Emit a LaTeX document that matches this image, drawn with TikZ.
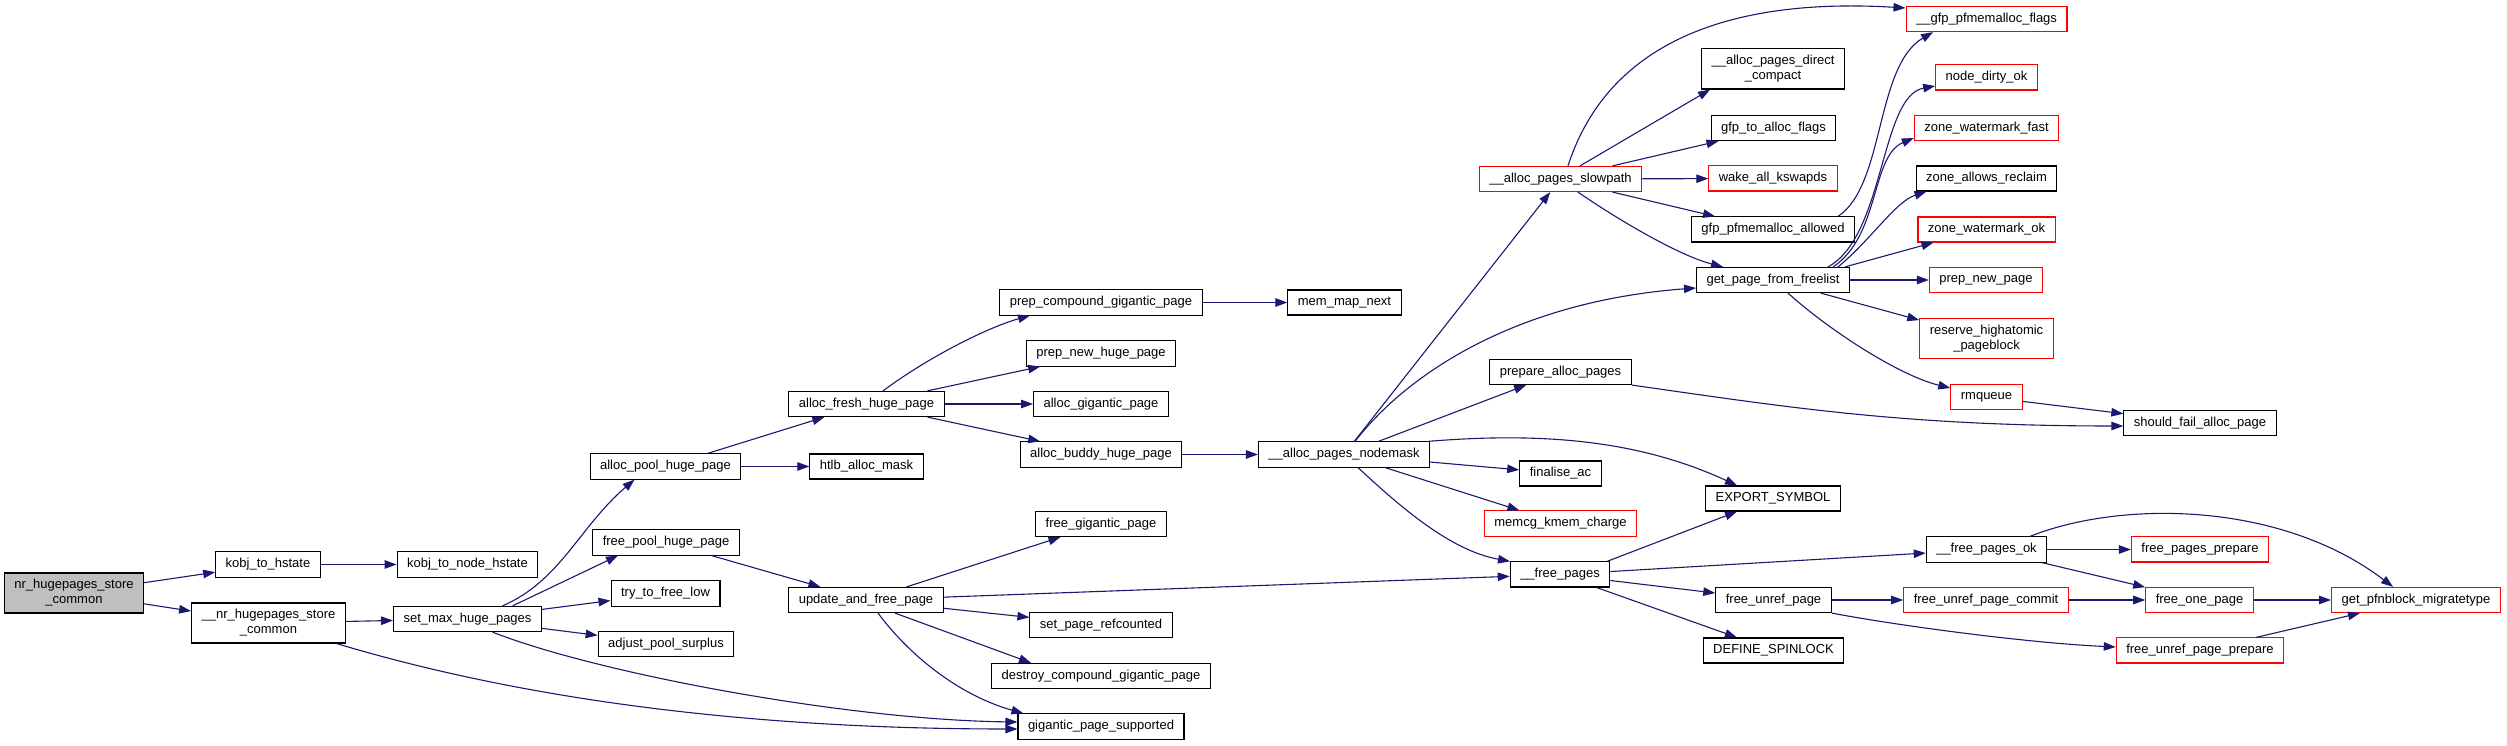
\documentclass[tikz,border=0pt]{standalone}
\usepackage{fontspec}
\setmainfont{Liberation Sans}
\usepackage{tikz}
\usetikzlibrary{arrows.meta}
\definecolor{edgeblue}{HTML}{191970}
\definecolor{rootgray}{HTML}{BFBFBF}

\begin{document}
\begin{tikzpicture}[
  x=1pt, y=1pt,
  fn/.style={draw=black, line width=1.1pt, fill=white, inner xsep=10pt, inner ysep=6.5pt, minimum height=25pt, align=center, font=\fontsize{13}{15}\selectfont},
  fnred/.style={fn, draw=red},
  fnroot/.style={fn, fill=rootgray},
  call/.style={-{Triangle[length=12pt,width=8.5pt]}, color=edgeblue, line width=1.1pt}
]
\useasboundingbox (0,0) rectangle (2507,746);

% Left side: sysfs entry and hugepage pool
\node[fnroot] (nhsc) at (74,153) {nr\_hugepages\_store\\\_common};
\node[fn] (kth) at (268,181.5) {kobj\_to\_hstate};
\node[fn] (ktnh) at (467.5,181.5) {kobj\_to\_node\_hstate};
\node[fn] (unhsc) at (268.5,123) {\_\_nr\_hugepages\_store\\\_common};
\node[fn] (smhp) at (467.5,127) {set\_max\_huge\_pages};
\node[fn] (aphp) at (665.5,279.5) {alloc\_pool\_huge\_page};
\node[fn] (ham) at (866.5,279.5) {htlb\_alloc\_mask};
\node[fn] (fphp) at (666,203.5) {free\_pool\_huge\_page};
\node[fn] (ttfl) at (665.5,152.5) {try\_to\_free\_low};
\node[fn] (aps) at (666,102) {adjust\_pool\_surplus};
\node[fn] (afhp) at (866.5,342) {alloc\_fresh\_huge\_page};
\node[fn] (uafp) at (866,146) {update\_and\_free\_page};
\node[fn] (pcgp) at (1101,443.5) {prep\_compound\_gigantic\_page};
\node[fn] (pnhp) at (1101,392.5) {prep\_new\_huge\_page};
\node[fn] (agp) at (1101,342) {alloc\_gigantic\_page};
\node[fn] (abhp) at (1101,291.5) {alloc\_buddy\_huge\_page};
\node[fn] (fgp) at (1101,222) {free\_gigantic\_page};
\node[fn] (sprc) at (1101,121) {set\_page\_refcounted};
\node[fn] (dcgp) at (1101,70) {destroy\_compound\_gigantic\_page};
\node[fn] (gps) at (1101,19.5) {gigantic\_page\_supported};
\node[fn] (mmn) at (1344.5,443.5) {mem\_map\_next};
\node[fn] (apn) at (1344,291.5) {\_\_alloc\_pages\_nodemask};

% Middle: page allocator
\node[fnred] (aslow) at (1560.5,567) {\_\_alloc\_pages\_slowpath};
\node[fn] (pap) at (1560.5,374) {prepare\_alloc\_pages};
\node[fn] (fac) at (1560.5,272.5) {finalise\_ac};
\node[fnred] (mkc) at (1560.5,222.5) {memcg\_kmem\_charge};
\node[fn] (ufp) at (1560,171.5) {\_\_free\_pages};
\node[fn] (apdc) at (1773,677) {\_\_alloc\_pages\_direct\\\_compact};
\node[fn] (gtaf) at (1773.5,618) {gfp\_to\_alloc\_flags};
\node[fnred] (wak) at (1773,567.5) {wake\_all\_kswapds};
\node[fn] (gpa) at (1773,516.5) {gfp\_pfmemalloc\_allowed};
\node[fn] (gpff) at (1773,466) {get\_page\_from\_freelist};
\node[fn] (es) at (1773,247.5) {EXPORT\_SYMBOL};
\node[fn] (fup) at (1773.5,146) {free\_unref\_page};
\node[fn] (ds) at (1773.5,95.5) {DEFINE\_SPINLOCK};

% Right side
\node[fnred] (ugpf) at (1986.5,727) {\_\_gfp\_pfmemalloc\_flags};
\node[fnred] (ndo) at (1986.5,668.5) {node\_dirty\_ok};
\node[fnred] (zwf) at (1986.5,618) {zone\_watermark\_fast};
\node[fn] (zar) at (1986.5,567.5) {zone\_allows\_reclaim};
\node[fnred] (zwo) at (1986.5,516.5) {zone\_watermark\_ok};
\node[fnred] (pnp) at (1986,466) {prep\_new\_page};
\node[fnred] (rhp) at (1986.5,407.5) {reserve\_highatomic\\\_pageblock};
\node[fnred] (rmq) at (1986.5,349) {rmqueue};
\node[fn] (ufpo) at (1986.5,196.5) {\_\_free\_pages\_ok};
\node[fnred] (fupc) at (1986,146) {free\_unref\_page\_commit};
\node[fn] (sfap) at (2200,323) {should\_fail\_alloc\_page};
\node[fnred] (fpp) at (2200,196.5) {free\_pages\_prepare};
\node[fnred] (fop) at (2199.5,146) {free\_one\_page};
\node[fnred] (fupp) at (2200,95.5) {free\_unref\_page\_prepare};
\node[fnred] (gpm) at (2416,146) {get\_pfnblock\_migratetype};

% Calls: left side
\draw[call] (nhsc) -- (kth);
\draw[call] (nhsc) -- (unhsc);
\draw[call] (kth) -- (ktnh);
\draw[call] (unhsc) -- (smhp);
\draw[call] ([xshift=68pt]unhsc.south) .. controls +(200,-60) and +(-250,0) .. ([yshift=-2.5pt]gps.west);
\draw[call] ([xshift=35pt]smhp.north) .. controls +(58,25) and +(-55,-47) .. ([xshift=-31pt]aphp.south);
\draw[call] ([xshift=45pt]smhp.north) -- ([xshift=-48pt]fphp.south);
\draw[call] (smhp) -- (ttfl);
\draw[call] (smhp) -- (aps);
\draw[call] ([xshift=25pt]smhp.south) .. controls +(107,-42) and +(-168,2) .. ([yshift=4.5pt]gps.west);
\draw[call] (aphp) -- (afhp);
\draw[call] (aphp) -- (ham);
\draw[call] ([xshift=16.5pt]afhp.north) .. controls +(47,35) and +(-40,-11) .. ([xshift=-71pt]pcgp.south);
\draw[call] (afhp) -- (pnhp);
\draw[call] (afhp) -- (agp);
\draw[call] (afhp) -- (abhp);
\draw[call] (pcgp) -- (mmn);
\draw[call] (abhp) -- (apn);
\draw[call] (fphp) -- (uafp);
\draw[call] (uafp) -- (fgp);
\draw[call] (uafp) -- (ufp);
\draw[call] (uafp) -- (sprc);
\draw[call] ([xshift=29pt]uafp.south) -- ([xshift=-70pt]dcgp.north);
\draw[call] ([xshift=12pt]uafp.south) .. controls +(32,-43) and +(-64,18) .. ([xshift=6pt]gps.north west);

% Calls: page allocator
\draw[call] (apn) -- (aslow);
\draw[call] ([xshift=11pt]apn.north) .. controls +(55,71) and +(-175,-13) .. ([yshift=-8pt]gpff.west);
\draw[call] (apn) -- (pap);
\draw[call] ([xshift=-2pt]apn.north east) .. controls +(132,11) and +(-87,40) .. ([xshift=-36pt]es.north);
\draw[call] (apn) -- (fac);
\draw[call] (apn) -- (mkc);
\draw[call] ([xshift=14pt]apn.south) .. controls +(42,-39) and +(-60,11) .. ([xshift=-50pt]ufp.north);
\draw[call] ([xshift=7.5pt]aslow.north) .. controls +(42,130) and +(-165,10) .. ([yshift=11pt]ugpf.west);
\draw[call] ([xshift=19.5pt]aslow.north) -- ([xshift=-63pt]apdc.south);
\draw[call] ([xshift=52pt]aslow.north) -- ([xshift=-55pt]gtaf.south);
\draw[call] (aslow) -- (wak);
\draw[call] ([xshift=52pt]aslow.south) -- ([xshift=-58pt]gpa.north);
\draw[call] ([xshift=17.5pt]aslow.south) .. controls +(42,-29) and +(-43,11) .. ([xshift=-50pt]gpff.north);
\draw[call] ([xshift=65pt]gpa.north) .. controls +(47,31) and +(-58,-34) .. ([xshift=-53.5pt]ugpf.south);
\draw[call] ([xshift=55pt]gpff.north) .. controls +(57,31) and +(-55,-10) .. ([yshift=-8.5pt]ndo.west);
\draw[call] ([xshift=60pt]gpff.north) .. controls +(47,31) and +(-43,-18) .. ([yshift=-10pt]zwf.west);
\draw[call] ([xshift=65pt]gpff.north) .. controls +(32,26) and +(-31,-10) .. ([xshift=-60pt]zar.south);
\draw[call] ([xshift=72pt]gpff.north) -- ([xshift=-53pt]zwo.south);
\draw[call] (gpff) -- (pnp);
\draw[call] (gpff) -- (rhp);
\draw[call] ([xshift=15pt]gpff.south) .. controls +(42,-38) and +(-50,12) .. ([yshift=9pt]rmq.west);
\draw[call] (pap.south east) .. controls +(149,-21) and +(-223,0) .. ([yshift=-3pt]sfap.west);
\draw[call] (rmq) -- (sfap);

% Calls: freeing pages
\draw[call] ([xshift=47pt]ufp.north) -- ([xshift=-36pt]es.south);
\draw[call] (ufp) -- (ufpo);
\draw[call] (ufp) -- (fup);
\draw[call] (ufp) -- (ds);
\draw[call] ([xshift=43.5pt]ufpo.north) .. controls +(90,36) and +(-113,86) .. ([xshift=-23pt]gpm.north);
\draw[call] (ufpo) -- (fpp);
\draw[call] (ufpo) -- (fop);
\draw[call] (fup) -- (fupc);
\draw[call] (fup.south east) .. controls +(69,-13) and +(-87,4) .. ([yshift=3.5pt]fupp.west);
\draw[call] (fupc) -- (fop);
\draw[call] (fop) -- (gpm);
\draw[call] (fupp) -- (gpm);

\end{tikzpicture}
\end{document}
